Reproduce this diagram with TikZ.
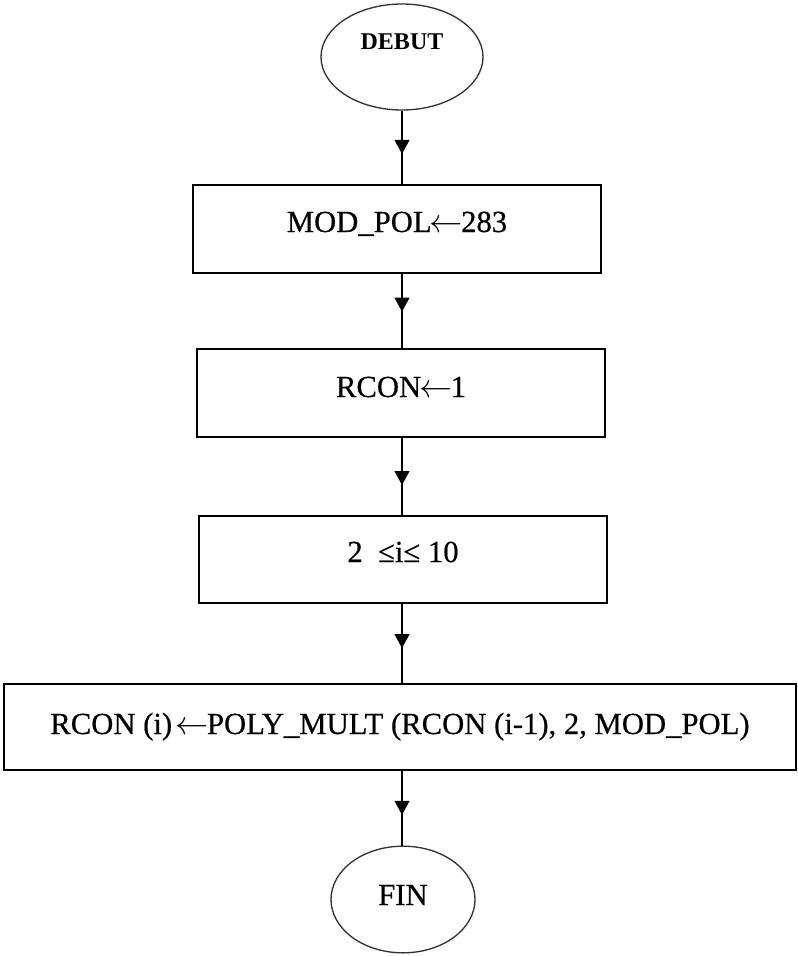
\documentclass[tikz,border=0pt]{standalone}
\usepackage{fontspec}
\setmainfont{Liberation Serif}
\usetikzlibrary{shapes.geometric,arrows.meta,decorations.markings}

% assignment arrow, set tight against its operands
\newcommand{\assignto}{\ensuremath{\mkern-1mu\leftarrow\mkern-1mu}}

\begin{document}
\begin{tikzpicture}[x=0.75pt,y=-0.75pt,
  termnode/.style={ellipse,draw=black!80,line width=1pt,inner sep=0pt},
  stepbox/.style={rectangle,draw,line width=1.4pt,inner sep=0pt,
    font=\addfontfeature{FakeBold=0.5}\fontsize{23}{27}\selectfont,text height=15pt},
  flowline/.style={line width=1.4pt},
  midarrow/.style={postaction={decorate},decoration={markings,
    mark=at position #1 with {\arrow{Triangle[length=10.5pt,width=11pt]}}}}
]
\useasboundingbox (0,0) rectangle (798,956);

% start and end terminals
\node[termnode,minimum width=121.5pt,minimum height=79.5pt,
  font=\bfseries\fontsize{18}{20}\selectfont,text height=12pt,text depth=22.5pt]
  (debut) at (402,57) {DEBUT};
\node[termnode,minimum width=108pt,minimum height=80pt,
  font=\addfontfeature{FakeBold=0.6}\fontsize{23}{27}\selectfont,text height=15pt,text depth=6.75pt]
  (fin) at (403,899.5) {FIN};

% process steps
\node[stepbox,minimum width=306pt,minimum height=66pt,text depth=10.5pt]
  (modpol) at (397,229) {MOD\_POL\assignto 283};
\node[stepbox,minimum width=306pt,minimum height=66pt,text depth=9pt]
  (rcon) at (401,393) {RCON\assignto 1};
\node[stepbox,minimum width=306pt,minimum height=65pt,text depth=11.2pt]
  (loop) at (403,559.5) {2\ \ ≤i≤ 10};
\node[stepbox,minimum width=594pt,minimum height=64.5pt,text depth=4.5pt]
  (mult) at (400,727) {RCON (i)\kern4pt\assignto POLY\_MULT (RCON (i-1), 2, MOD\_POL)};

% connectors
\draw[flowline,midarrow=0.59] (debut.south) -- (debut.south |- modpol.north);
\draw[flowline,midarrow=0.51] (modpol.south -| debut.south) -- (rcon.north -| debut.south);
\draw[flowline,midarrow=0.61] (rcon.south -| debut.south) -- (loop.north -| debut.south);
\draw[flowline,midarrow=0.56] (loop.south -| debut.south) -- (mult.north -| debut.south);
\draw[flowline,midarrow=0.59] (mult.south -| debut.south) -- (fin.north -| debut.south);
\end{tikzpicture}
\end{document}
